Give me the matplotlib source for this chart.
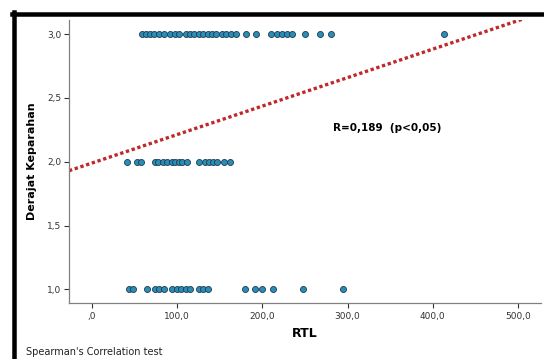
import numpy as np
import matplotlib
matplotlib.use('Agg')
import matplotlib.pyplot as plt
from matplotlib.lines import Line2D

# RTL values per severity level
rtl_3 = [59, 63, 68, 73, 79, 85, 91, 97, 102, 110, 115, 120, 125, 130, 136, 141,
         146, 153, 157, 163, 169, 181, 192, 210, 217, 223, 229, 235, 250, 268, 281, 413]
rtl_2 = [41, 53, 57, 74, 78, 83, 88, 94, 98, 102, 106, 111, 125, 133, 137, 142,
         147, 155, 162]
rtl_1 = [44, 48, 65, 74, 79, 84, 94, 100, 105, 110, 115, 126, 130, 136, 179, 191,
         200, 213, 248, 295]
levels = [3.0, 2.0, 1.0]

# fit line
fit_intercept = 1.99
fit_slope = 0.00223

x_ticks = [0, 100, 200, 300, 400, 500]
x_ticklabels = [',0', '100,0', '200,0', '300,0', '400,0', '500,0']
y_ticks = [1.0, 1.5, 2.0, 2.5, 3.0]
y_ticklabels = ['1,0', '1,5', '2,0', '2,5', '3,0']

W, H = 544, 359
fig = plt.figure(figsize=(W / 100, H / 100), dpi=100)
fig.patch.set_facecolor('white')
ax = fig.add_axes([69 / W, 1 - 303 / H, (541 - 69) / W, (303 - 20) / H])

ax.set_xlim(-27, 527)
ax.set_ylim(0.894, 3.11)

xs = np.array(ax.get_xlim())
ax.plot(xs, fit_intercept + fit_slope * xs, color='#c0282a', lw=2.4,
        linestyle=(0, (1, 0.8)), zorder=2)

for lev, vals in zip(levels, [rtl_3, rtl_2, rtl_1]):
    ax.scatter(vals, [lev] * len(vals), s=19, color='#2b8cb6',
               edgecolors='#1d3c50', linewidths=0.6, zorder=3)

for side in ['top', 'right']:
    ax.spines[side].set_visible(False)
for side in ['left', 'bottom']:
    ax.spines[side].set_color('#808080')
    ax.spines[side].set_linewidth(0.9)

ax.set_xticks(x_ticks)
ax.set_xticklabels(x_ticklabels)
ax.set_yticks(y_ticks)
ax.set_yticklabels(y_ticklabels)
ax.tick_params(axis='both', labelsize=6.5, colors='#333333', length=3.5,
               width=0.8, pad=2)
ax.tick_params(axis='x', pad=3)

ax.set_xlabel('RTL', fontsize=9, fontweight='bold', labelpad=4)
ax.set_ylabel('Derajat Keparahan', fontsize=8, fontweight='bold', labelpad=7)

ax.text(346, 2.263, 'R=0,189  (p<0,05)', fontsize=7.5, fontweight='bold',
        ha='center', va='center')

fig.text(26 / W, 1 - 352 / H, "Spearman's Correlation test", fontsize=7,
         color='#222222', ha='left', va='center')

# black frame on left and top
lw_frame = 4.5 * 72 / 100
fig.add_artist(Line2D([14 / W, 14 / W], [0, 1 - 12 / H], color='black',
                      lw=lw_frame, transform=fig.transFigure))
fig.add_artist(Line2D([12 / W, 1], [1 - 14 / H, 1 - 14 / H], color='black',
                      lw=lw_frame, transform=fig.transFigure))

fig.savefig('out.png', dpi=100)
